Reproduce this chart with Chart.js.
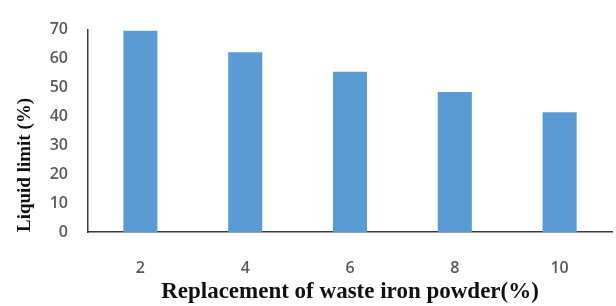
<!DOCTYPE html>
<html>
<head>
<meta charset="utf-8">
<script src="https://cdn.jsdelivr.net/npm/chart.js@4"></script>
<style>
  html, body { margin: 0; padding: 0; background: #fff; }
  #wrap { width: 616px; height: 306px; }
</style>
</head>
<body>
<div id="wrap"><canvas id="chart" width="616" height="306"></canvas></div>
<script>
/* liquid limit vs. waste iron powder replacement */

const categories = ["2", "4", "6", "8", "10"];
const liquidLimit = [69.6, 62.2, 55.4, 48.4, 41.4];
const yTicks = [0, 10, 20, 30, 40, 50, 60, 70];

const xTitle = "Replacement of waste iron powder(%)";
const yTitle = "Liquid limit (%)";

const axisColor = "#3a3a3a";
const tickColor = "#5a5a5a";

const ctx = document.getElementById("chart").getContext("2d");
new Chart(ctx, {
  type: "bar",
  data: {
    labels: categories,
    datasets: [{
      label: yTitle,
      data: liquidLimit,
      backgroundColor: "#5b9bd5",
      borderWidth: 0,
      barPercentage: 0.325,
      categoryPercentage: 1
    }]
  },
  options: {
    responsive: false,
    animation: false,
    devicePixelRatio: 1,
    layout: { padding: { top: 18, right: 4, left: 0, bottom: 0 } },
    plugins: { legend: { display: false }, tooltip: { enabled: false } },
    scales: {
      x: {
        grid: { display: false, drawTicks: false },
        border: { display: true, color: axisColor, width: 1.5 },
        ticks: { color: tickColor, padding: 27, font: { family: "Open Sans", size: 16, weight: "600" } },
        title: {
          display: true, text: xTitle, color: "#111",
          font: { family: "Liberation Serif", size: 23, weight: "bold" },
          padding: { top: 0, bottom: 0 }
        },
        afterFit: s => { s.height = 74; }
      },
      y: {
        min: 0, max: 70,
        afterBuildTicks: s => { s.ticks = yTicks.map(v => ({ value: v })); },
        grid: { display: false, drawTicks: false },
        border: { display: true, color: axisColor, width: 1.5 },
        ticks: { color: tickColor, padding: 20, font: { family: "Open Sans", size: 16, weight: "600" } },
        title: {
          display: true, text: yTitle, color: "#111", align: "start",
          font: { family: "Liberation Serif", size: 19, weight: "bold" },
          padding: { top: 14, bottom: 0 }
        },
        afterFit: s => { s.width = 88; }
      }
    }
  }
});
</script>
</body>
</html>
